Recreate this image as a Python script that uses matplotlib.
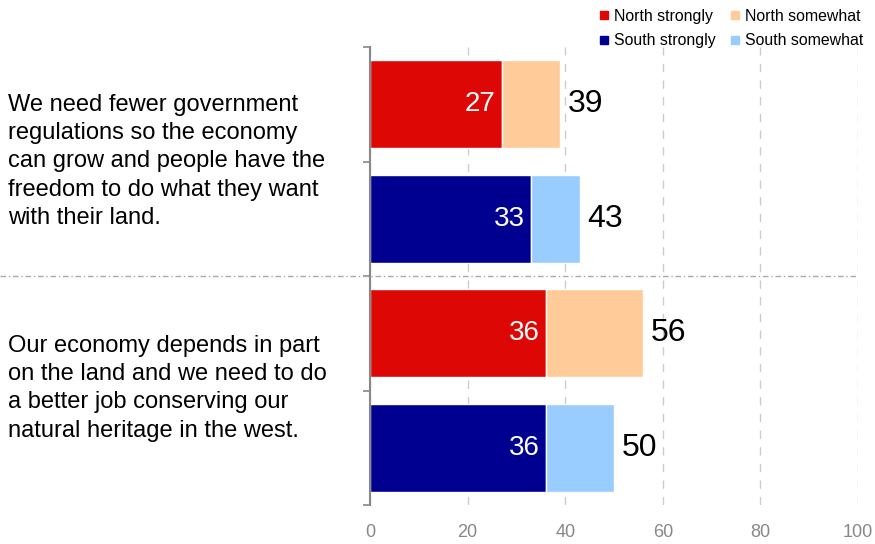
import matplotlib.pyplot as plt
import numpy as np
from matplotlib.lines import Line2D

plt.rcParams['font.family'] = ['Liberation Sans', 'DejaVu Sans']

# Data
statements = [
    'We need fewer government\nregulations so the economy\ncan grow and people have the\nfreedom to do what they want\nwith their land.',
    'Our economy depends in part\non the land and we need to do\na better job conserving our\nnatural heritage in the west.',
]
north_strongly = [27, 36]
north_total = [39, 56]
south_strongly = [33, 36]
south_total = [43, 50]

c_ns, c_nw = '#DD0806', '#FFCC99'
c_ss, c_sw = '#000090', '#99CCFF'

fig = plt.figure(figsize=(8.75, 5.44), dpi=100)
ax = fig.add_axes([370/875, 39/544, 488/875, 458/544])

h = 0.77
for i in range(len(statements)):
    yn, ys = 2*i, 2*i + 1
    ax.barh(yn, north_strongly[i], h, color=c_ns, edgecolor='white', linewidth=1)
    ax.barh(yn, north_total[i] - north_strongly[i], h, left=north_strongly[i],
            color=c_nw, edgecolor='white', linewidth=1)
    ax.barh(ys, south_strongly[i], h, color=c_ss, edgecolor='white', linewidth=1)
    ax.barh(ys, south_total[i] - south_strongly[i], h, left=south_strongly[i],
            color=c_sw, edgecolor='white', linewidth=1)
    for y, s, t in [(yn, north_strongly[i], north_total[i]),
                    (ys, south_strongly[i], south_total[i])]:
        ax.text(s - 1.3, y, str(s), color='white', fontsize=20,
                ha='right', va='center')
        ax.text(t + 1.5, y, str(t), color='black', fontsize=23,
                ha='left', va='center')

ax.set_xlim(0, 100)
ax.set_ylim(3.5, -0.5)
ax.set_xticks(np.arange(0, 101, 20))
ax.set_yticks([-0.5, 0.5, 1.5, 2.5, 3.5])
ax.set_yticklabels([])
ax.tick_params(axis='y', color='#888888', length=5, width=1.2, direction='out')
ax.tick_params(axis='x', length=0, labelcolor='#888888', labelsize=13, pad=14)
ax.xaxis.grid(True, linestyle=(0, (6, 6)), color='#cccccc', linewidth=1)
ax.set_axisbelow(True)
for s in ['top', 'right', 'bottom']:
    ax.spines[s].set_visible(False)
ax.spines['left'].set_color('#888888')
ax.spines['left'].set_linewidth(1.5)

# separator line between the two statements
ax.axhline(1.5, xmin=-370/488, xmax=1, color='#aaaaaa', linewidth=1,
           linestyle=(0, (4, 2, 1, 2)), clip_on=False)

for i, txt in enumerate(statements):
    yc = 0.5 if i == 0 else 2.48
    ax.text(-370/488*100 + 8/4.88, yc, txt, fontsize=17, ha='left', va='center',
            linespacing=1.37, clip_on=False)

handles = [Line2D([], [], marker='s', ls='', color=c, markersize=6)
           for c in [c_ns, c_ss, c_nw, c_sw]]
labels = ['North strongly', 'South strongly', 'North somewhat', 'South somewhat']
fig.legend(handles, labels, ncol=2, loc='upper right', bbox_to_anchor=(1.003, 1.01),
           frameon=False, fontsize=11.4, handletextpad=0.15, columnspacing=0.7,
           labelspacing=0.6, handlelength=1.0)

fig.savefig('out.png', dpi=100)
